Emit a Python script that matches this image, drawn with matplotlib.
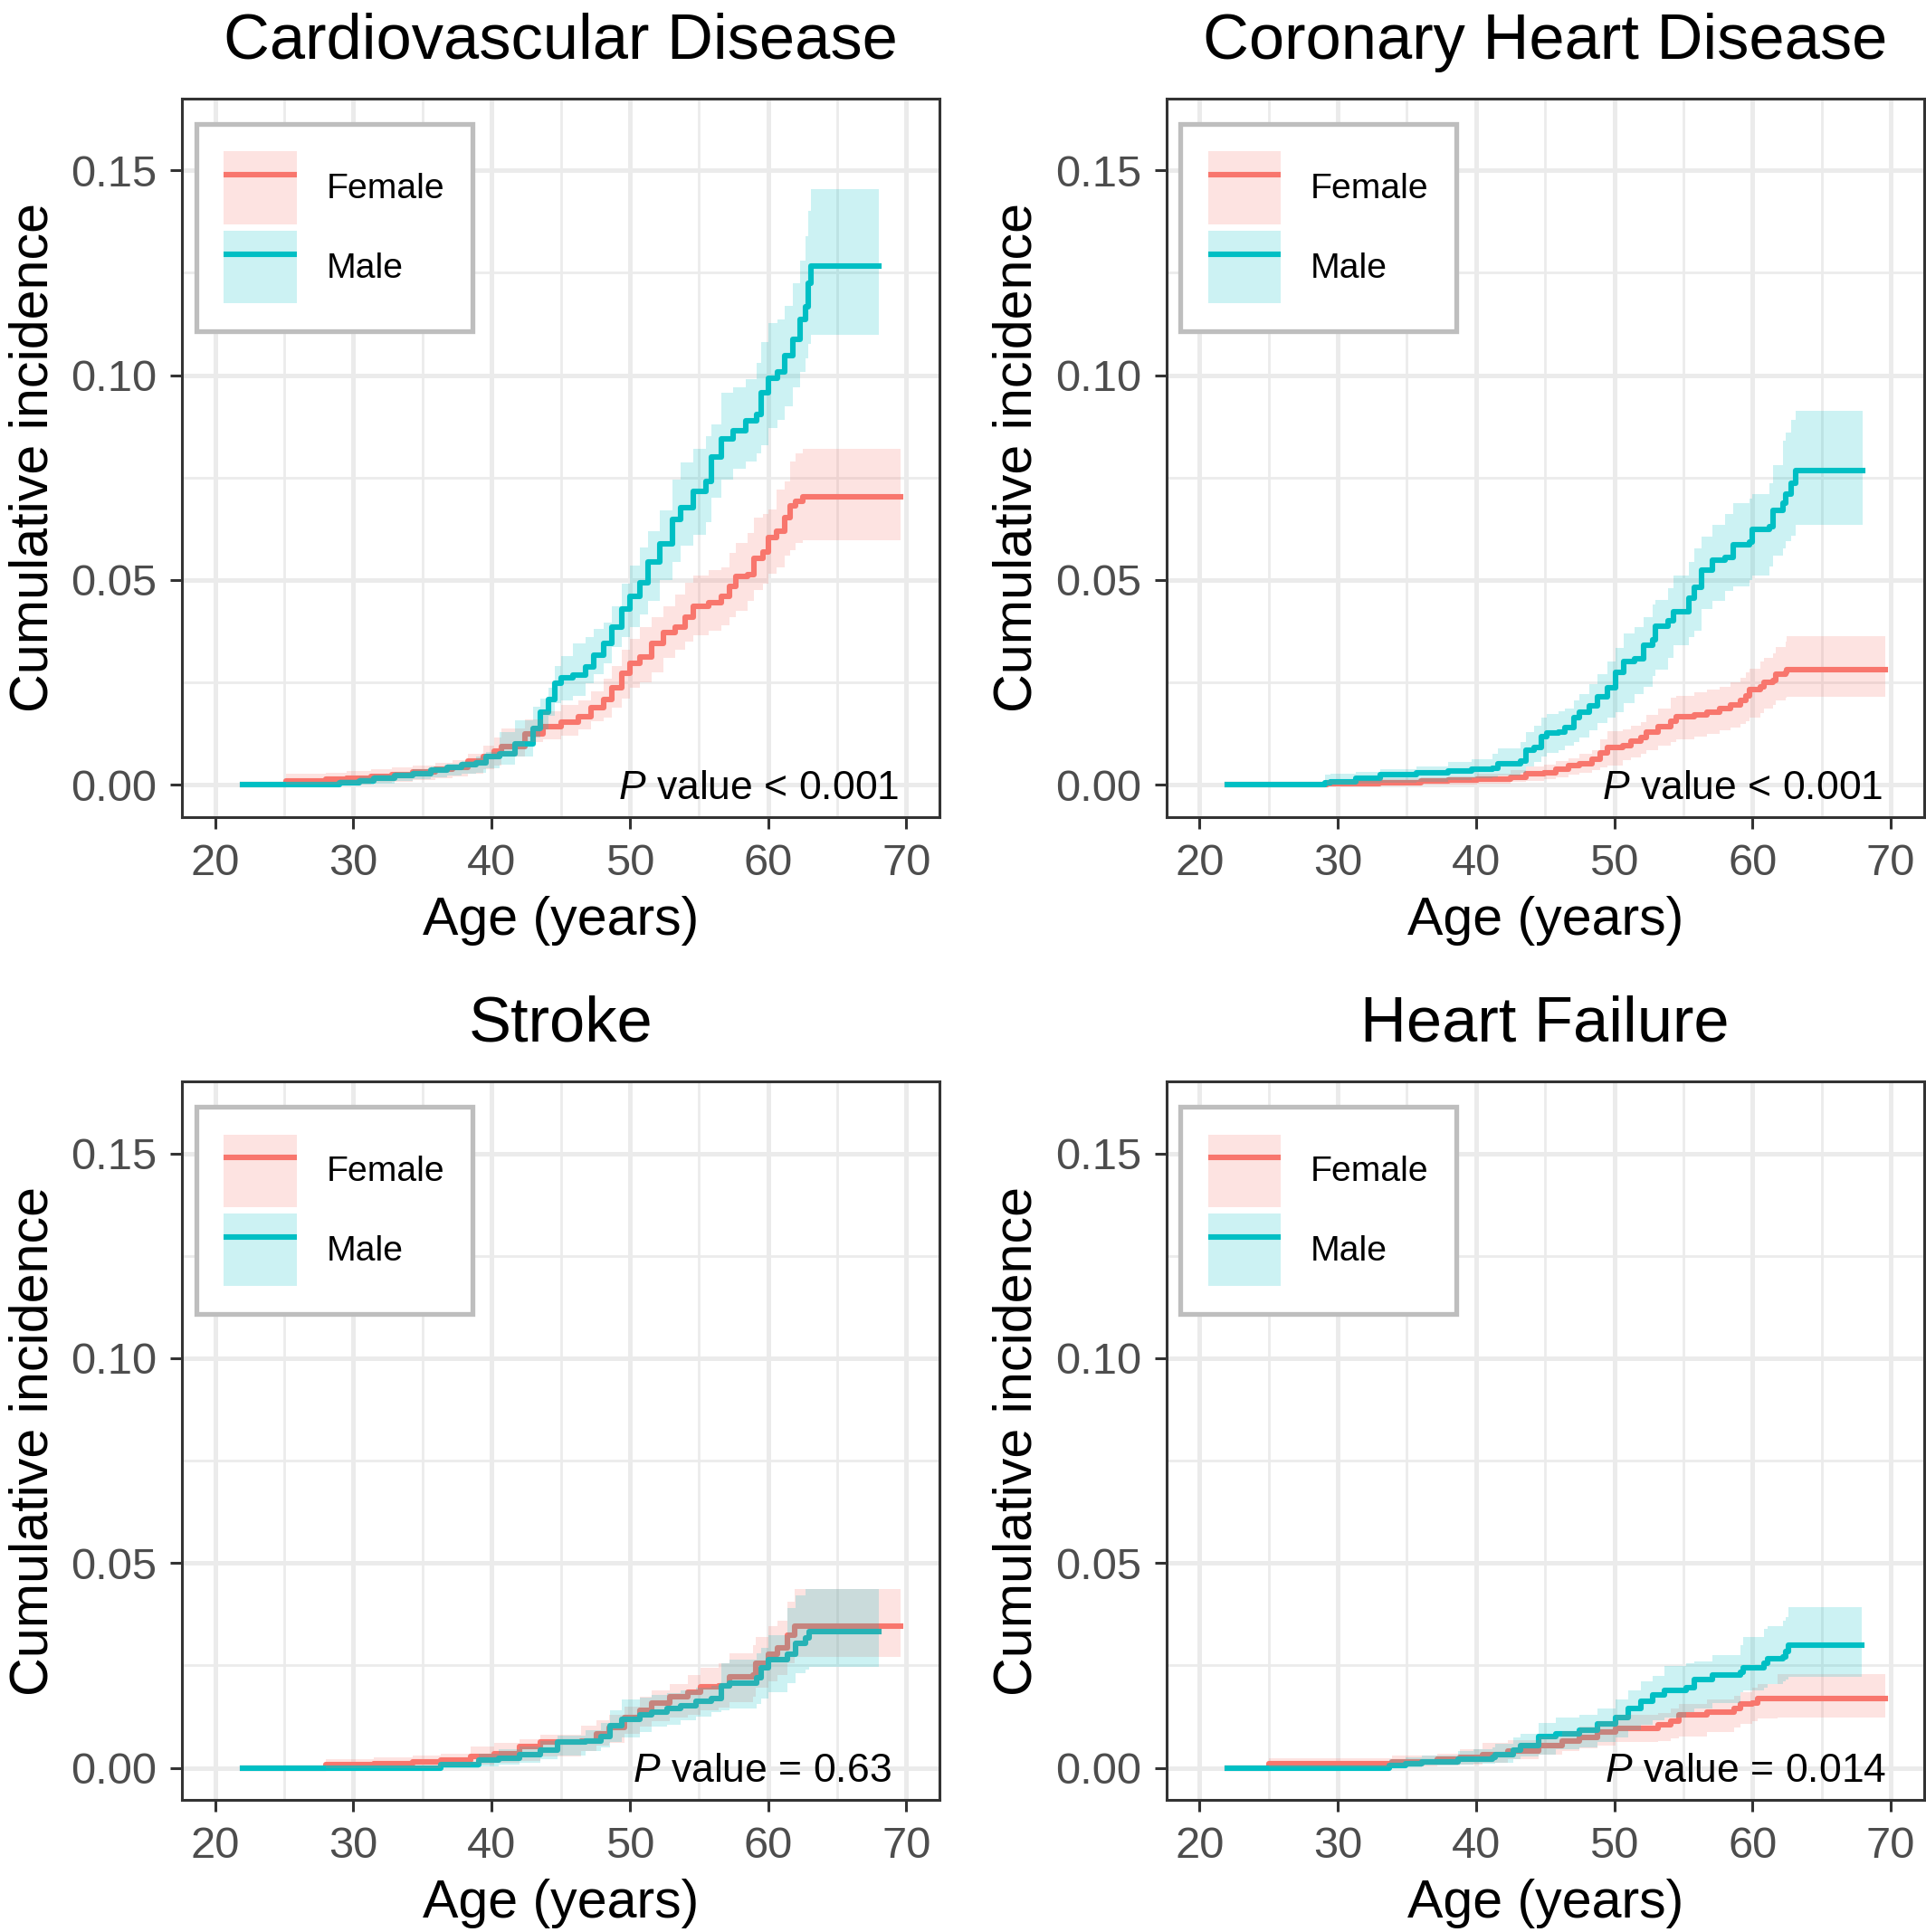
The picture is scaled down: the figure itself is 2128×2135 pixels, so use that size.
"""Cumulative incidence by sex for four cardiovascular outcomes"""

import matplotlib.pyplot as plt
from matplotlib.patches import Patch
from matplotlib.lines import Line2D
from matplotlib.legend_handler import HandlerTuple

plt.rcParams['font.family'] = ['Liberation Sans', 'DejaVu Sans']
plt.rcParams['mathtext.fontset'] = 'custom'
plt.rcParams['mathtext.it'] = 'Liberation Sans:italic'
plt.rcParams['mathtext.rm'] = 'Liberation Sans'

RED = '#F8766D'
TEAL = '#00BFC4'

# ---- Cardiovascular disease ----
cvd_f_age = [22.0, 25.1, 28.0, 29.5, 31.3, 32.8, 34.3, 35.9, 37.2, 38.3, 39.4, 40.2, 40.7, 42.4,
             43.7, 45.0, 46.3, 47.2, 48.1, 48.7, 49.4, 50.0, 50.7, 51.6, 52.4, 53.3, 54.0, 54.6,
             55.7, 56.6, 57.2, 57.7, 58.5, 59.0, 59.6, 60.0, 60.6, 61.2, 61.6, 62.0, 62.5, 69.6]
cvd_f_est = [0.0, 0.0009, 0.0014, 0.0016, 0.0020, 0.0025, 0.0031, 0.0037, 0.0042, 0.0057, 0.0068,
             0.0082, 0.0094, 0.0124, 0.0143, 0.0153, 0.0166, 0.0188, 0.0208, 0.0237, 0.0272, 0.0296,
             0.0311, 0.0346, 0.0371, 0.0385, 0.0410, 0.0435, 0.0445, 0.0460, 0.0484, 0.0509, 0.0514,
             0.0553, 0.0568, 0.0603, 0.0618, 0.0652, 0.0682, 0.0692, 0.0704, 0.0704]
cvd_f_hi = [0.0, 0.0027, 0.0030, 0.0033, 0.0038, 0.0043, 0.0048, 0.0054, 0.0060, 0.0075, 0.0095,
            0.0115, 0.0138, 0.0160, 0.0180, 0.0195, 0.0205, 0.0227, 0.0260, 0.0290, 0.0330, 0.0356,
            0.0385, 0.0410, 0.0435, 0.0465, 0.0494, 0.0510, 0.0524, 0.0530, 0.0565, 0.0590, 0.0615,
            0.0652, 0.0660, 0.0672, 0.0721, 0.0741, 0.0790, 0.0810, 0.0820, 0.0820]
cvd_f_lo = [0.0, 0.0, 0.0, 0.0001, 0.0004, 0.0008, 0.0012, 0.0017, 0.0020, 0.0028, 0.0038, 0.0048,
            0.0069, 0.0105, 0.0112, 0.0120, 0.0135, 0.0155, 0.0165, 0.0188, 0.0210, 0.0237, 0.0250,
            0.0275, 0.0310, 0.0330, 0.0350, 0.0365, 0.0375, 0.0390, 0.0410, 0.0425, 0.0450, 0.0475,
            0.0490, 0.0515, 0.0530, 0.0560, 0.0573, 0.0590, 0.0598, 0.0598]

cvd_m_age = [22.0, 29.0, 30.4, 31.5, 33.0, 34.3, 35.6, 36.8, 37.8, 38.9, 39.6, 40.6, 41.7, 43.0,
             43.5, 44.1, 44.6, 45.0, 45.9, 46.8, 47.4, 48.1, 48.7, 49.4, 50.0, 50.7, 51.3, 52.2,
             53.1, 53.7, 54.6, 55.5, 55.9, 56.6, 57.5, 58.4, 59.2, 59.5, 60.0, 60.7, 61.2, 61.8,
             62.3, 62.7, 62.9, 63.1, 68.0]
cvd_m_est = [0.0, 0.0005, 0.0009, 0.0016, 0.0022, 0.0027, 0.0035, 0.0042, 0.0049, 0.0053, 0.0068,
             0.0075, 0.0099, 0.0138, 0.0178, 0.0208, 0.0247, 0.0262, 0.0267, 0.0287, 0.0316, 0.0346,
             0.0385, 0.0430, 0.0460, 0.0494, 0.0543, 0.0588, 0.0647, 0.0677, 0.0716, 0.0741, 0.0800,
             0.0845, 0.0865, 0.0889, 0.0904, 0.0958, 0.0993, 0.1008, 0.1047, 0.1087, 0.1136, 0.1166,
             0.1225, 0.1267, 0.1267]
cvd_m_hi = [0.0, 0.0013, 0.0020, 0.0025, 0.0032, 0.0038, 0.0045, 0.0052, 0.0058, 0.0068, 0.0080,
            0.0128, 0.0158, 0.0190, 0.0210, 0.0237, 0.0290, 0.0315, 0.0346, 0.0360, 0.0380, 0.0395,
            0.0435, 0.0490, 0.0535, 0.0580, 0.0620, 0.0670, 0.0745, 0.0786, 0.0820, 0.0850, 0.0880,
            0.0958, 0.0970, 0.0990, 0.1030, 0.1080, 0.1127, 0.1136, 0.1170, 0.1225, 0.1280, 0.1340,
            0.1400, 0.1455, 0.1455]
cvd_m_lo = [0.0, 0.0, 0.0, 0.0003, 0.0010, 0.0013, 0.0018, 0.0023, 0.0027, 0.0030, 0.0040, 0.0049,
            0.0069, 0.0115, 0.0135, 0.0168, 0.0200, 0.0205, 0.0217, 0.0247, 0.0270, 0.0296, 0.0336,
            0.0360, 0.0385, 0.0415, 0.0450, 0.0500, 0.0545, 0.0583, 0.0610, 0.0642, 0.0700, 0.0745,
            0.0771, 0.0790, 0.0810, 0.0830, 0.0870, 0.0890, 0.0925, 0.0970, 0.1008, 0.1040, 0.1077,
            0.1099, 0.1099]

# ---- Coronary heart disease ----
chd_f_age = [22.0, 29.2, 33.0, 36.0, 38.0, 40.1, 42.5, 43.6, 44.9, 45.8, 46.7, 47.5, 48.4, 49.0,
             49.5, 50.6, 51.2, 51.9, 52.3, 53.2, 54.1, 54.5, 55.8, 56.7, 57.6, 58.4, 59.1, 59.5,
             59.8, 60.6, 60.8, 61.5, 61.7, 62.4, 62.5, 69.6]
chd_f_est = [0.0, 0.0002, 0.0005, 0.0009, 0.0011, 0.0013, 0.0018, 0.0026, 0.0030, 0.0037, 0.0046,
             0.0052, 0.0063, 0.0078, 0.0092, 0.0096, 0.0107, 0.0115, 0.0129, 0.0141, 0.0155, 0.0166,
             0.0170, 0.0178, 0.0185, 0.0196, 0.0207, 0.0218, 0.0233, 0.0240, 0.0251, 0.0255, 0.0270,
             0.0274, 0.0281, 0.0281]
chd_f_hi = [0.0, 0.0012, 0.0015, 0.0018, 0.0020, 0.0028, 0.0035, 0.0045, 0.0050, 0.0057, 0.0065,
            0.0075, 0.0085, 0.0110, 0.0130, 0.0135, 0.0145, 0.0152, 0.0170, 0.0185, 0.0212, 0.0218,
            0.0225, 0.0232, 0.0240, 0.0250, 0.0262, 0.0275, 0.0284, 0.0300, 0.0310, 0.0320, 0.0336,
            0.0350, 0.0362, 0.0362]
chd_f_lo = [0.0, 0.0, 0.0, 0.0, 0.0, 0.0003, 0.0007, 0.0010, 0.0013, 0.0018, 0.0025, 0.0030,
            0.0035, 0.0042, 0.0048, 0.0060, 0.0067, 0.0075, 0.0085, 0.0096, 0.0105, 0.0112, 0.0118,
            0.0125, 0.0133, 0.0140, 0.0148, 0.0155, 0.0165, 0.0174, 0.0185, 0.0195, 0.0207, 0.0212,
            0.0215, 0.0215]

chd_m_age = [22.0, 29.1, 29.5, 31.3, 33.1, 35.7, 38.0, 39.7, 41.2, 41.6, 43.2, 43.6, 44.2, 44.7,
             45.1, 46.0, 46.4, 47.1, 47.5, 48.2, 48.8, 49.5, 50.1, 50.7, 51.5, 52.1, 52.8, 53.0,
             53.9, 54.3, 55.4, 55.8, 56.3, 57.1, 58.0, 58.6, 59.8, 60.0, 61.2, 61.5, 62.2, 62.4,
             62.8, 63.1, 68.0]
chd_m_est = [0.0, 0.0005, 0.0008, 0.0017, 0.0024, 0.0030, 0.0033, 0.0037, 0.0040, 0.0052, 0.0059,
             0.0085, 0.0092, 0.0118, 0.0126, 0.0129, 0.0140, 0.0163, 0.0178, 0.0192, 0.0214, 0.0237,
             0.0274, 0.0300, 0.0307, 0.0340, 0.0355, 0.0388, 0.0400, 0.0422, 0.0455, 0.0481, 0.0525,
             0.0549, 0.0555, 0.0586, 0.0592, 0.0623, 0.0629, 0.0669, 0.0688, 0.0710, 0.0736, 0.0766,
             0.0766]
chd_m_hi = [0.0, 0.0024, 0.0026, 0.0032, 0.0038, 0.0045, 0.0055, 0.0062, 0.0075, 0.0089, 0.0105,
            0.0129, 0.0145, 0.0165, 0.0172, 0.0180, 0.0185, 0.0205, 0.0222, 0.0245, 0.0270, 0.0300,
            0.0335, 0.0370, 0.0385, 0.0410, 0.0440, 0.0451, 0.0480, 0.0510, 0.0545, 0.0577, 0.0605,
            0.0635, 0.0660, 0.0688, 0.0699, 0.0710, 0.0736, 0.0780, 0.0840, 0.0860, 0.0890, 0.0913,
            0.0913]
chd_m_lo = [0.0, 0.0, 0.0, 0.0003, 0.0006, 0.0008, 0.0011, 0.0015, 0.0018, 0.0022, 0.0030, 0.0044,
            0.0055, 0.0070, 0.0078, 0.0085, 0.0095, 0.0104, 0.0115, 0.0133, 0.0150, 0.0165, 0.0178,
            0.0200, 0.0222, 0.0240, 0.0265, 0.0281, 0.0310, 0.0340, 0.0360, 0.0377, 0.0429, 0.0450,
            0.0473, 0.0485, 0.0499, 0.0510, 0.0533, 0.0560, 0.0577, 0.0595, 0.0607, 0.0635, 0.0635]

# ---- Stroke ----
stk_f_age = [22.0, 28.0, 31.5, 34.3, 36.3, 38.5, 40.2, 42.0, 43.5, 46.5, 47.6, 48.5, 49.6, 50.7,
             51.6, 52.9, 54.2, 55.1, 56.4, 57.2, 58.9, 59.1, 60.0, 60.7, 61.4, 61.9, 69.6]
stk_f_est = [0.0, 0.0008, 0.0011, 0.0014, 0.0018, 0.0028, 0.0034, 0.0051, 0.0062, 0.0066, 0.0084,
             0.0099, 0.0122, 0.0140, 0.0159, 0.0174, 0.0185, 0.0198, 0.0200, 0.0222, 0.0226, 0.0256,
             0.0278, 0.0293, 0.0323, 0.0346, 0.0346]
stk_f_hi = [0.0, 0.0020, 0.0025, 0.0030, 0.0035, 0.0051, 0.0060, 0.0069, 0.0080, 0.0103, 0.0115,
            0.0129, 0.0150, 0.0174, 0.0190, 0.0205, 0.0226, 0.0245, 0.0255, 0.0280, 0.0300, 0.0320,
            0.0345, 0.0360, 0.0405, 0.0437, 0.0437]
stk_f_lo = [0.0, 0.0, 0.0, 0.0, 0.0003, 0.0008, 0.0012, 0.0017, 0.0028, 0.0040, 0.0054, 0.0060,
            0.0084, 0.0100, 0.0114, 0.0122, 0.0129, 0.0140, 0.0148, 0.0160, 0.0174, 0.0196, 0.0210,
            0.0226, 0.0256, 0.0271, 0.0271]

stk_m_age = [22.0, 36.3, 39.1, 40.5, 42.0, 43.5, 44.8, 46.8, 47.9, 48.6, 49.4, 50.7, 51.6, 52.7,
             53.7, 54.8, 55.9, 56.6, 57.2, 59.2, 59.5, 60.0, 61.4, 62.0, 62.7, 63.0, 68.0]
stk_m_est = [0.0, 0.0007, 0.0018, 0.0024, 0.0032, 0.0043, 0.0062, 0.0066, 0.0077, 0.0103, 0.0118,
             0.0129, 0.0137, 0.0144, 0.0151, 0.0163, 0.0170, 0.0200, 0.0207, 0.0219, 0.0245, 0.0263,
             0.0278, 0.0304, 0.0316, 0.0332, 0.0332]
stk_m_hi = [0.0, 0.0015, 0.0035, 0.0045, 0.0051, 0.0065, 0.0078, 0.0092, 0.0110, 0.0140, 0.0166,
            0.0172, 0.0178, 0.0183, 0.0189, 0.0195, 0.0200, 0.0256, 0.0265, 0.0280, 0.0293, 0.0323,
            0.0390, 0.0420, 0.0437, 0.0437, 0.0437]
stk_m_lo = [0.0, 0.0, 0.0004, 0.0008, 0.0013, 0.0020, 0.0030, 0.0040, 0.0050, 0.0062, 0.0075,
            0.0088, 0.0100, 0.0105, 0.0115, 0.0125, 0.0135, 0.0140, 0.0145, 0.0155, 0.0170, 0.0185,
            0.0207, 0.0230, 0.0240, 0.0246, 0.0246]

# ---- Heart failure ----
hf_f_age = [22.0, 25.0, 33.9, 37.2, 38.8, 40.5, 42.3, 44.5, 46.2, 47.5, 48.8, 50.1, 53.2, 54.1,
            54.7, 56.7, 58.7, 59.1, 60.0, 60.4, 61.8, 69.6]
hf_f_est = [0.0, 0.0010, 0.0014, 0.0020, 0.0025, 0.0032, 0.0040, 0.0054, 0.0066, 0.0073, 0.0088,
            0.0096, 0.0104, 0.0114, 0.0129, 0.0137, 0.0144, 0.0155, 0.0159, 0.0170, 0.0170, 0.0170]
hf_f_hi = [0.0, 0.0024, 0.0029, 0.0035, 0.0045, 0.0060, 0.0068, 0.0077, 0.0090, 0.0100, 0.0114,
           0.0129, 0.0133, 0.0144, 0.0155, 0.0166, 0.0175, 0.0185, 0.0195, 0.0205, 0.0228, 0.0228]
hf_f_lo = [0.0, 0.0001, 0.0003, 0.0006, 0.0008, 0.0012, 0.0020, 0.0032, 0.0040, 0.0047, 0.0054,
           0.0062, 0.0066, 0.0072, 0.0077, 0.0088, 0.0099, 0.0108, 0.0114, 0.0120, 0.0122, 0.0122]

hf_m_age = [22.0, 33.7, 34.9, 36.1, 38.7, 39.8, 41.2, 41.4, 42.7, 43.2, 44.5, 45.8, 47.5, 48.8,
            50.1, 51.0, 51.9, 52.8, 53.6, 55.2, 55.8, 57.1, 59.1, 59.3, 60.8, 61.1, 62.2, 62.4,
            62.6, 67.9]
hf_m_est = [0.0, 0.0005, 0.0011, 0.0015, 0.0020, 0.0022, 0.0026, 0.0032, 0.0043, 0.0054, 0.0077,
            0.0084, 0.0092, 0.0107, 0.0122, 0.0144, 0.0163, 0.0178, 0.0189, 0.0196, 0.0215, 0.0226,
            0.0234, 0.0245, 0.0256, 0.0267, 0.0271, 0.0284, 0.0299, 0.0299]
hf_m_hi = [0.0, 0.0020, 0.0025, 0.0031, 0.0042, 0.0046, 0.0050, 0.0058, 0.0075, 0.0084, 0.0110,
           0.0122, 0.0129, 0.0144, 0.0166, 0.0190, 0.0210, 0.0225, 0.0249, 0.0255, 0.0260, 0.0275,
           0.0300, 0.0320, 0.0340, 0.0346, 0.0360, 0.0368, 0.0392, 0.0392]
hf_m_lo = [0.0, 0.0, 0.0002, 0.0005, 0.0008, 0.0009, 0.0010, 0.0013, 0.0020, 0.0027, 0.0032,
           0.0045, 0.0050, 0.0062, 0.0075, 0.0092, 0.0105, 0.0115, 0.0122, 0.0135, 0.0144, 0.0159,
           0.0185, 0.0189, 0.0196, 0.0204, 0.0210, 0.0215, 0.0222, 0.0222]

titles = ['Cardiovascular Disease', 'Coronary Heart Disease', 'Stroke', 'Heart Failure']
p_labels = ['< 0.001', '< 0.001', '= 0.63', '= 0.014']
p_x = [69.5, 69.4, 68.9, 69.65]

panels = [
    (cvd_f_age, cvd_f_est, cvd_f_lo, cvd_f_hi, cvd_m_age, cvd_m_est, cvd_m_lo, cvd_m_hi),
    (chd_f_age, chd_f_est, chd_f_lo, chd_f_hi, chd_m_age, chd_m_est, chd_m_lo, chd_m_hi),
    (stk_f_age, stk_f_est, stk_f_lo, stk_f_hi, stk_m_age, stk_m_est, stk_m_lo, stk_m_hi),
    (hf_f_age, hf_f_est, hf_f_lo, hf_f_hi, hf_m_age, hf_m_est, hf_m_lo, hf_m_hi),
]

# axes boxes in figure fractions (left, bottom, width, height)
W, H = 0.39333, 0.37190
boxes = [(0.09446, 0.57705), (0.60559, 0.57705), (0.09446, 0.06824), (0.60559, 0.06824)]

fig = plt.figure(figsize=(10.64, 10.675), dpi=200)

for i in range(4):
    f_age, f_est, f_lo, f_hi, m_age, m_est, m_lo, m_hi = panels[i]
    ax = fig.add_axes([boxes[i][0], boxes[i][1], W, H])

    # lines first, ribbons on top (as in the original)
    ax.step(f_age, f_est, where='post', color=RED, lw=2.2, zorder=2)
    ax.step(m_age, m_est, where='post', color=TEAL, lw=2.2, zorder=2)
    ax.fill_between(f_age, f_lo, f_hi, step='post', color=RED, alpha=0.2, lw=0, zorder=3)
    ax.fill_between(m_age, m_lo, m_hi, step='post', color=TEAL, alpha=0.2, lw=0, zorder=3)

    ax.set_xlim(17.6, 72.4)
    ax.set_ylim(-0.0079, 0.1675)
    ax.set_xticks([20, 30, 40, 50, 60, 70])
    ax.set_xticks([25, 35, 45, 55, 65], minor=True)
    ax.set_yticks([0.0, 0.05, 0.10, 0.15])
    ax.set_yticklabels(['0.00', '0.05', '0.10', '0.15'])
    ax.set_yticks([0.025, 0.075, 0.125], minor=True)

    ax.set_axisbelow(True)
    ax.grid(which='major', color='#EBEBEB', lw=1.8)
    ax.grid(which='minor', color='#EBEBEB', lw=1.0)
    ax.tick_params(which='major', length=4.7, width=1.1, color='#333333',
                   labelsize=17.6, labelcolor='#4D4D4D')
    ax.tick_params(axis='x', pad=5.8)
    ax.tick_params(axis='y', pad=5.3)
    ax.tick_params(which='minor', length=0)
    for sp in ax.spines.values():
        sp.set_color('#333333')
        sp.set_linewidth(1.1)

    ax.set_title(titles[i], fontsize=25.4, pad=16)
    ax.set_xlabel('Age (years)', fontsize=21.3, labelpad=4.5)
    ax.set_ylabel('Cumulative incidence', fontsize=21.3, labelpad=5)

    ax.text(p_x[i], -0.0035, r'$\mathit{P}$ value ' + p_labels[i], ha='right', va='baseline',
            fontsize=16, zorder=5)

    handles = [
        (Patch(facecolor=RED, alpha=0.2, edgecolor='none'),
         Line2D([], [], color=RED, lw=2.2, solid_capstyle='butt')),
        (Patch(facecolor=TEAL, alpha=0.2, edgecolor='none'),
         Line2D([], [], color=TEAL, lw=2.2, solid_capstyle='butt')),
    ]
    leg = ax.legend(handles, ['Female', 'Male'],
                    handler_map={tuple: HandlerTuple(ndivide=1, pad=0)},
                    loc='upper left', bbox_to_anchor=(0.0187, 0.9651), borderaxespad=0,
                    fontsize=14.1, handlelength=2.05, handleheight=2.78, handletextpad=0.84,
                    labelspacing=0.18, borderpad=0.78, fancybox=False, framealpha=1,
                    edgecolor='#BEBEBE')
    leg.get_frame().set_linewidth(1.9)
    leg.set_zorder(10)

fig.savefig('out.png', dpi=200)
